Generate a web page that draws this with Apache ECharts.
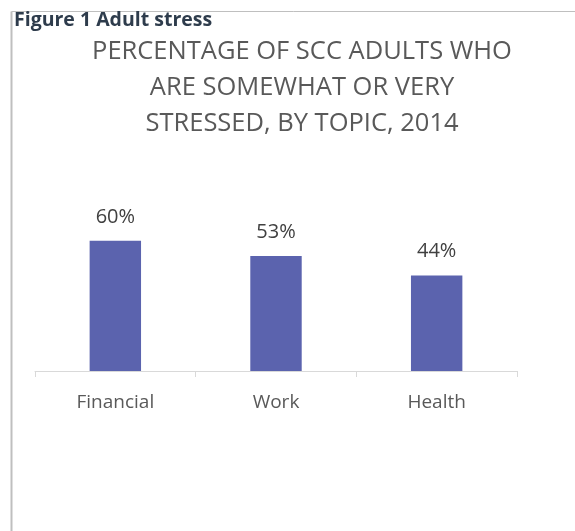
<!DOCTYPE html>
<html>
<head>
<meta charset="utf-8">
<script src="https://cdn.jsdelivr.net/npm/echarts@6/dist/echarts.min.js"></script>
<style>
html,body{margin:0;padding:0;background:#fff;}
#chart{width:575px;height:531px;}
</style>
</head>
<body>
<div id="chart"></div>
<script>
const categories = ['Financial', 'Work', 'Health'];
const values = [60, 53, 44];
const figureCaption = 'Figure 1 Adult stress';
const chartTitle = 'PERCENTAGE OF SCC ADULTS WHO\nARE SOMEWHAT OR VERY\nSTRESSED, BY TOPIC, 2014';

const chart = echarts.init(document.getElementById('chart'));
chart.setOption({
  backgroundColor: '#ffffff',
  animation: false,
  graphic: [
    { type: 'line', shape: { x1: 11.5, y1: 11.5, x2: 575, y2: 11.5 }, style: { stroke: '#bfbfbf', lineWidth: 1 } },
    { type: 'line', shape: { x1: 11.5, y1: 11.5, x2: 11.5, y2: 531 }, style: { stroke: '#bfbfbf', lineWidth: 2 } },
    { type: 'text', left: 14, top: 10, style: { text: figureCaption, font: 'bold 19.5px "Open Sans", sans-serif', fill: '#2e3c4c' } }
  ],
  title: {
    text: chartTitle,
    left: 297,
    textAlign: 'center',
    top: 29,
    textStyle: { fontFamily: 'Open Sans', fontWeight: 'normal', fontSize: 25.5, lineHeight: 36, color: '#595959' }
  },
  grid: { left: 35, right: 58, top: 154, bottom: 160, containLabel: false },
  xAxis: {
    type: 'category',
    data: categories,
    axisLine: { lineStyle: { color: '#d9d9d9', width: 1 } },
    axisTick: { show: true, length: 6, lineStyle: { color: '#d9d9d9' } },
    axisLabel: { fontFamily: 'Open Sans', fontSize: 19, color: '#595959', margin: 22 }
  },
  yAxis: {
    type: 'value', min: 0, max: 100, show: false,
    splitLine: { show: false }
  },
  series: [{
    type: 'bar',
    data: values,
    barWidth: '32%',
    itemStyle: { color: '#5b63ae' },
    label: {
      show: true, position: 'top', distance: 14,
      formatter: p => p.value + '%',
      fontFamily: 'Open Sans', fontSize: 20, color: '#404040'
    }
  }]
});
</script>
</body>
</html>
